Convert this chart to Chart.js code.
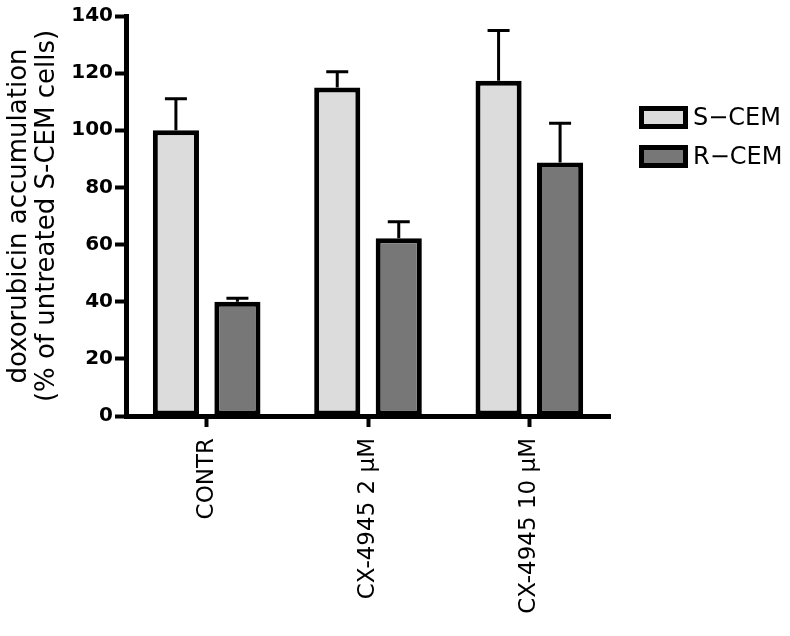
<!DOCTYPE html>
<html>
<head>
<meta charset="utf-8">
<script src="https://cdn.jsdelivr.net/npm/chart.js@4"></script>
<style>
  html, body { margin: 0; padding: 0; background: #fff; }
  #wrap { position: relative; width: 790px; height: 636px; }
  .leg { position: absolute; left: 639px; display: flex; align-items: center; font: 24px "DejaVu Sans", sans-serif; color: #000; }
  .leg span.box { display: inline-block; width: 39px; height: 13px; border: 5px solid #000; margin-right: 5px; }
</style>
</head>
<body>
<div id="wrap">
  <canvas id="chart" width="790" height="636"></canvas>
  <div class="leg" style="top:103px"><span class="box" style="background:#dcdcdc"></span>S−CEM</div>
  <div class="leg" style="top:142px"><span class="box" style="background:#777777"></span>R−CEM</div>
</div>
<script>
const categories = ["CONTR", "CX-4945 2 \u00b5M", "CX-4945 10 \u00b5M"];
const seriesNames = ["S-CEM", "R-CEM"];
const sCem = [100, 115, 117.3];
const rCem = [40, 62.2, 88.7];
const sCemErr = [11, 5.5, 17.6];
const rCemErr = [1.2, 5.8, 13.8];
const yTicks = [0, 20, 40, 60, 80, 100, 120, 140];

// upward-only error bars with a cap
const errorBars = {
  id: "errorBars",
  afterDatasetsDraw(chart) {
    const ctx = chart.ctx;
    const y = chart.scales.y;
    chart.data.datasets.forEach((ds, i) => {
      const meta = chart.getDatasetMeta(i);
      meta.data.forEach((bar, j) => {
        const top = y.getPixelForValue(ds.data[j] + ds.err[j]);
        ctx.save();
        ctx.strokeStyle = "#000";
        ctx.lineWidth = 3;
        ctx.beginPath();
        ctx.moveTo(bar.x, bar.y);
        ctx.lineTo(bar.x, top);
        ctx.moveTo(bar.x - 11, top);
        ctx.lineTo(bar.x + 11, top);
        ctx.stroke();
        ctx.restore();
      });
    });
  }
};

new Chart(document.getElementById("chart"), {
  type: "bar",
  data: {
    labels: categories,
    datasets: [
      { label: seriesNames[0], data: sCem, err: sCemErr, backgroundColor: "#dcdcdc",
        borderColor: "#000", borderWidth: 5, borderSkipped: false },
      { label: seriesNames[1], data: rCem, err: rCemErr, backgroundColor: "#777777",
        borderColor: "#000", borderWidth: 5, borderSkipped: false }
    ]
  },
  options: {
    responsive: false,
    animation: false,
    categoryPercentage: 0.7625,
    barPercentage: 0.75,
    layout: { padding: { top: 16, right: 180, left: 0, bottom: 0 } },
    plugins: { legend: { display: false }, tooltip: { enabled: false } },
    scales: {
      x: {
        grid: { display: true, drawOnChartArea: false, offset: false, tickLength: 11, tickWidth: 4, tickColor: "#000" },
        border: { display: true, color: "#000", width: 5 },
        ticks: { color: "#000", font: { family: "DejaVu Sans", size: 23 }, minRotation: 90, maxRotation: 90, padding: 11 },
        afterFit(s) { s.height = 220; }
      },
      y: {
        min: 0, max: 140,
        afterBuildTicks(s) { s.ticks = yTicks.map(v => ({ value: v })); },
        grid: { display: true, drawOnChartArea: false, tickLength: 11, tickWidth: 4, tickColor: "#000" },
        border: { display: true, color: "#000", width: 5 },
        ticks: { color: "#000", font: { family: "DejaVu Sans", size: 20, weight: "bold" }, padding: 2 },
        title: {
          display: true,
          text: ["doxorubicin accumulation", "(% of untreated S-CEM cells)"],
          color: "#000",
          font: { family: "DejaVu Sans", size: 26, lineHeight: 1.05 },
          padding: { top: 6, bottom: 0 }
        },
        afterFit(s) { s.width = 126; }
      }
    }
  },
  plugins: [errorBars]
});
</script>
</body>
</html>
